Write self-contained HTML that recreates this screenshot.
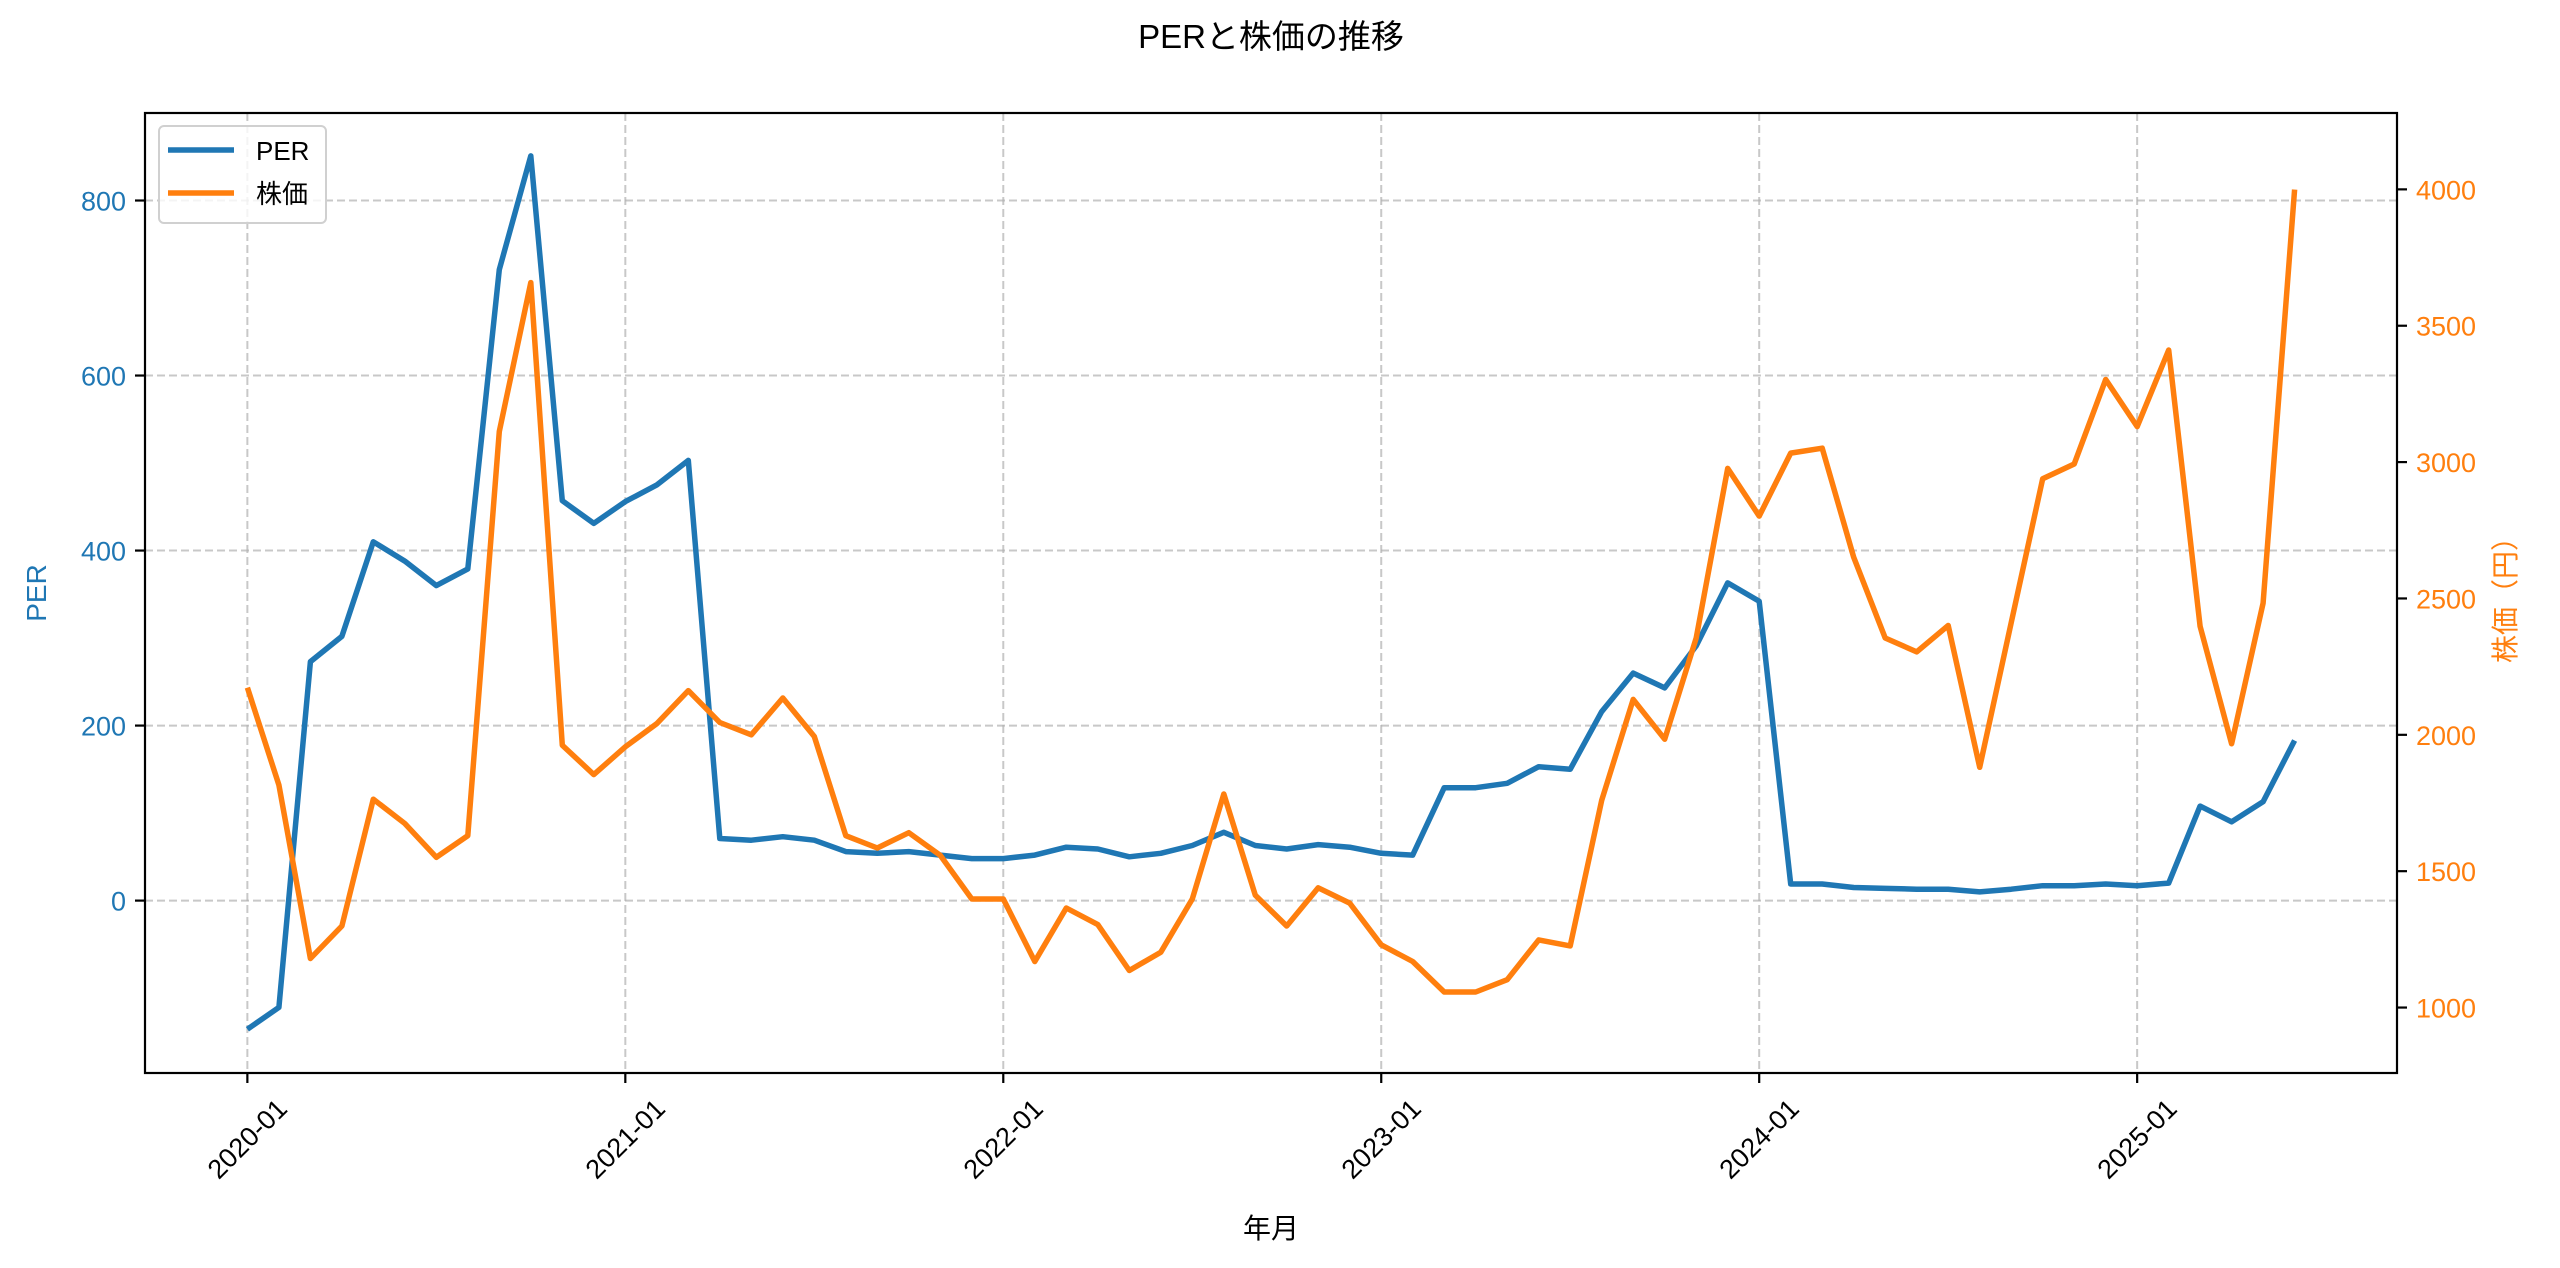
<!DOCTYPE html>
<html><head><meta charset="utf-8"><style>
html,body{margin:0;padding:0;background:#fff}
svg{display:block;font-family:"Liberation Sans","Noto Sans CJK JP",sans-serif}
</style></head><body>
<svg id="chart" width="2560" height="1268" viewBox="0 0 2560 1268" xmlns="http://www.w3.org/2000/svg">
<rect width="2560" height="1268" fill="#fff"/>
<text x="1271" y="48" text-anchor="middle" font-size="33" fill="#000">PERと株価の推移</text>
<g id="grid"></g>
<g id="series"></g>
<rect x="145" y="113" width="2252" height="960" fill="none" stroke="#000" stroke-width="2.2"/>
<g id="axes"></g>
<text transform="translate(46,593) rotate(-90)" text-anchor="middle" font-size="28" fill="#1f77b4">PER</text>
<text transform="translate(2515,593) rotate(-90)" text-anchor="middle" font-size="28" fill="#ff7f0e">株価（円）</text>
<text x="1271" y="1238" text-anchor="middle" font-size="28" fill="#000">年月</text>
<g>
<rect x="159" y="126" width="167" height="97" rx="5" fill="#fff" fill-opacity="0.8" stroke="#d0d0d0" stroke-width="2"/>
<line x1="168" y1="150" x2="234" y2="150" stroke="#1f77b4" stroke-width="5.5"/>
<text x="256" y="160" font-size="26">PER</text>
<line x1="168" y1="193" x2="234" y2="193" stroke="#ff7f0e" stroke-width="5.5"/>
<text x="256" y="203" font-size="26">株価</text>
</g>
</svg>
<script>
const perValues=[-147,-122,273,302,410,388,360,379,721,851,457,431,456,475,503,71,69,73,69,56,54,56,52,48,48,52,61,59,50,54,63,78,63,59,64,61,54,52,129,129,134,153,150,216,260,243,291,363,342,19,19,15,14,13,13,10,13,17,17,19,17,20,108,90,113,183];
const priceValues=[2173,1816,1180,1299,1764,1675,1551,1630,3112,3658,1962,1854,1956,2041,2162,2045,2000,2135,1994,1630,1585,1641,1558,1398,1398,1169,1365,1304,1136,1203,1398,1783,1412,1299,1439,1383,1230,1169,1057,1057,1102,1248,1226,1760,2130,1984,2355,2977,2802,3033,3051,2651,2355,2304,2401,1881,2411,2939,2993,3303,3130,3411,2398,1967,2483,3999];
const xTickLabels=["2020-01","2021-01","2022-01","2023-01","2024-01","2025-01"];
const leftTicks=[0,200,400,600,800];
const rightTicks=[1000,1500,2000,2500,3000,3500,4000];

const L=145,R=2397,T=113,B=1073;
const n=perValues.length;
const xMin=-3.25,xMax=(n-1)+3.25;
const x=i=>L+(i-xMin)/(xMax-xMin)*(R-L);
const yL=v=>B-(v-(-197))/(900-(-197))*(B-T);
const yR=v=>B-(v-760)/(4280-760)*(B-T);
const NS="http://www.w3.org/2000/svg";
function mk(tag,attrs,parent){const e=document.createElementNS(NS,tag);for(const k in attrs)e.setAttribute(k,attrs[k]);parent.appendChild(e);return e;}
const grid=document.getElementById('grid'),axes=document.getElementById('axes'),series=document.getElementById('series');
const gridStyle={stroke:"#b0b0b0","stroke-opacity":"0.7","stroke-width":"2","stroke-dasharray":"8,4"};
xTickLabels.forEach((lab,k)=>{
  const xi=x(k*12);
  const g=mk('line',Object.assign({x1:xi,x2:xi,y1:T,y2:B},gridStyle),grid);
  
  
  const t=mk('line',{x1:xi,x2:xi,y1:B,y2:B+10,stroke:"#000","stroke-width":"2.2"},axes);
  
  
  const tx=mk('text',{x:xi,y:1139,"text-anchor":"middle","dominant-baseline":"central","font-size":"27",transform:`rotate(-45 ${xi} 1139)`},axes);
  tx.textContent=lab;
  
  
});
leftTicks.forEach(v=>{
  const yy=yL(v);
  const g=mk('line',Object.assign({x1:L,x2:R,y1:yy,y2:yy},gridStyle),grid);
  
  
  const t=mk('line',{x1:L-10,x2:L,y1:yy,y2:yy,stroke:"#000","stroke-width":"2.2"},axes);
  
  
  const tx=mk('text',{x:L-19,y:yy+10,"text-anchor":"end","font-size":"27",fill:"#1f77b4"},axes);
  tx.textContent=v;
  
  
});
rightTicks.forEach(v=>{
  const yy=yR(v);
  const t=mk('line',{x1:R,x2:R+10,y1:yy,y2:yy,stroke:"#000","stroke-width":"2.2"},axes);
  
  
  const tx=mk('text',{x:R+19,y:yy+10,"text-anchor":"start","font-size":"27",fill:"#ff7f0e"},axes);
  tx.textContent=v;
  
  
});
const perPts=perValues.map((v,i)=>x(i).toFixed(1)+','+yL(v).toFixed(1)).join(' ');
const pl=mk('polyline',{points:perPts,fill:"none",stroke:"#1f77b4","stroke-width":"5.5","stroke-linejoin":"round"},series);


const prPts=priceValues.map((v,i)=>x(i).toFixed(1)+','+yR(v).toFixed(1)).join(' ');
const pl2=mk('polyline',{points:prPts,fill:"none",stroke:"#ff7f0e","stroke-width":"5.5","stroke-linejoin":"round"},series);


</script>
</body></html>
